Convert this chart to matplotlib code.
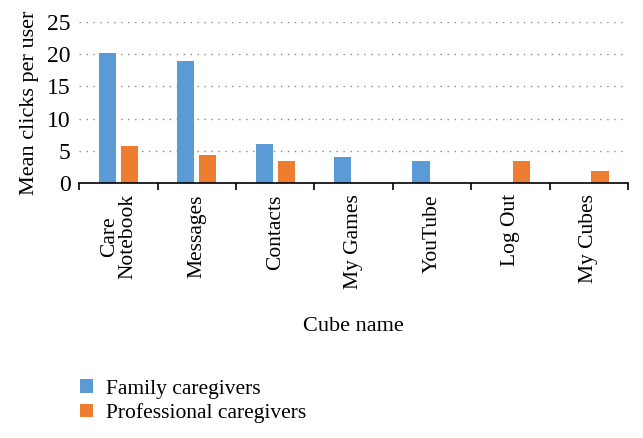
import numpy as np
import matplotlib
matplotlib.use('Agg')
from matplotlib import pyplot as plt

categories = ['Care\nNotebook', 'Messages', 'Contacts', 'My Games', 'YouTube', 'Log Out', 'My Cubes']
family = [20.2, 18.9, 6.1, 4.0, 3.4, 0, 0]
professional = [5.7, 4.3, 3.4, 0, 0, 3.4, 1.9]
series_names = ['Family caregivers', 'Professional caregivers']

plt.rcParams['font.family'] = ['Liberation Serif', 'DejaVu Serif']
fig = plt.figure(figsize=(6.43, 4.38), dpi=100)
ax = fig.add_axes([0.123, 0.582, 0.854, 0.368])

x = np.arange(len(categories))
w = 0.22
b1 = ax.bar(x - 0.14, family, w, color='#5B9BD5', label=series_names[0])
b2 = ax.bar(x + 0.14, professional, w, color='#ED7D31', label=series_names[1])

ax.set_xlim(-0.5, len(categories) - 0.5)
ax.set_ylim(0, 25)
ax.set_yticks(range(0, 26, 5))
ax.yaxis.grid(True, linestyle=(0, (1, 4)), color='#888888', linewidth=1)
ax.set_axisbelow(True)
for s in ['left', 'top', 'right']:
    ax.spines[s].set_visible(False)
ax.spines['bottom'].set_linewidth(1.2)
ax.tick_params(axis='y', length=0, labelsize=17, pad=6)
ax.set_xticks(x)
ax.set_xticklabels(categories, rotation=90, fontsize=15.5, linespacing=0.95)
ax.tick_params(axis='x', length=0, pad=8)
ax.set_xticks(np.arange(-0.5, len(categories)), minor=True)
ax.tick_params(axis='x', which='minor', length=5, width=1.2, direction='out')
ax.set_ylabel('Mean clicks per user', fontsize=16, labelpad=6)
ax.set_xlabel('Cube name', fontsize=16, labelpad=20)

fig.legend(handles=[b1, b2], loc='upper left', bbox_to_anchor=(0.095, 0.178),
           frameon=False, fontsize=15.5, handlelength=0.6, handleheight=0.6,
           labelspacing=0.2, handletextpad=0.6)
fig.savefig('out.png', dpi=100)
